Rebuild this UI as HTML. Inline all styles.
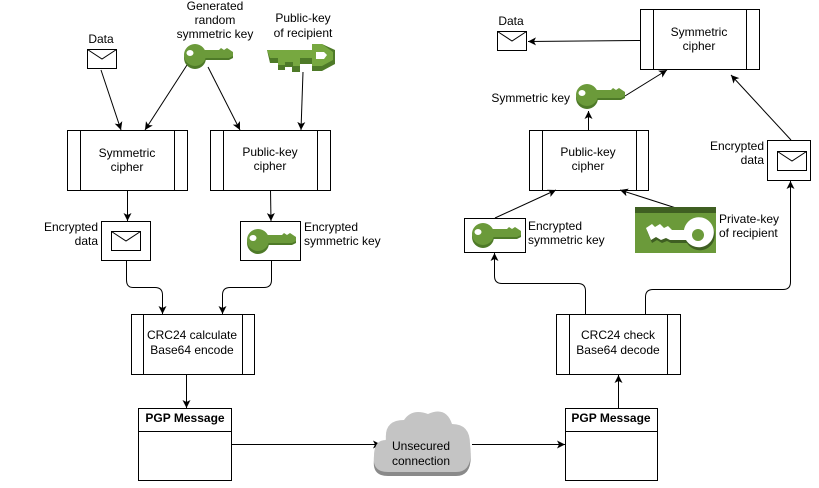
<!DOCTYPE html>
<html><head><meta charset="utf-8"><style>
html,body{margin:0;padding:0;background:#fff;}
svg{display:block;}
text{font-family:"Liberation Sans",sans-serif;font-size:12px;fill:#000;}
</style></head><body>
<svg width="819" height="488" viewBox="0 0 819 488" xmlns="http://www.w3.org/2000/svg">
<defs>
<marker id="a" markerWidth="10" markerHeight="10" refX="8" refY="4" orient="auto" markerUnits="userSpaceOnUse">
<path d="M0,0 L8,4 L0,8 L2,4 Z" fill="#000"/></marker>
<g id="key">
<path d="M12,3 A11,11 0 1 1 12,25 A11,11 0 1 1 12,3 Z" fill="#4e7a28"/>
<path d="M18,8 L36,8 L38,6 L41,8 L44,6 L47,8 L50,10 L50,14 L46,16 L18,16 Z" fill="#4e7a28"/>
<circle cx="12" cy="11" r="11" fill="#6b9a3a"/>
<path d="M18,6 L36,6 L38,4 L41,6 L44,4 L47,6 L50,8 L50,12 L46,14 L18,14 Z" fill="#6b9a3a"/>
<ellipse cx="7" cy="9" rx="3.5" ry="3" fill="#fff"/>
</g>
<g id="env">
<rect x="0.5" y="0.5" width="29" height="19" fill="#fff" stroke="#000"/>
<path d="M0.5,0.5 L15,10 L29.5,0.5" fill="none" stroke="#000"/>
</g>
</defs>
<g fill="none" stroke="#000" stroke-width="1">
<!-- left process boxes -->
<rect x="67.5" y="130.5" width="120" height="60" fill="#fff"/><path d="M80.5,130.5V190.5M174.5,130.5V190.5"/>
<rect x="210.5" y="130.5" width="120" height="60" fill="#fff"/><path d="M223.5,130.5V190.5M317.5,130.5V190.5"/>
<rect x="101.5" y="221.5" width="49" height="39"/>
<rect x="240.5" y="221.5" width="60" height="39"/>
<rect x="131.5" y="314.5" width="123" height="60"/><path d="M143.5,314.5V374.5M242.5,314.5V374.5"/>
<rect x="138.5" y="408.5" width="93" height="72"/><path d="M138.5,431.5H231.5"/>
<!-- right -->
<rect x="565.5" y="408.5" width="92" height="72"/><path d="M565.5,431.5H657.5"/>
<rect x="556.5" y="314.5" width="124" height="60"/><path d="M569.5,314.5V374.5M667.5,314.5V374.5"/>
<rect x="529.5" y="130.5" width="119" height="60"/><path d="M542.5,130.5V190.5M636.5,130.5V190.5"/>
<rect x="640.5" y="9.5" width="119" height="60"/><path d="M653.5,9.5V69.5M746.5,9.5V69.5"/>
<rect x="464.5" y="218.5" width="61" height="34"/>
<rect x="767.5" y="140.5" width="43" height="40"/>
<!-- arrows -->
<path d="M101,70 L121,130" marker-end="url(#a)"/>
<path d="M187,65 L145,130" marker-end="url(#a)"/>
<path d="M208,67 L240,130" marker-end="url(#a)"/>
<path d="M303,72 L301,130" marker-end="url(#a)"/>
<path d="M127.5,190 V221" marker-end="url(#a)"/>
<path d="M270.5,190 L271,221" marker-end="url(#a)"/>
<path d="M126.5,261 V280 Q126.5,287.5 133,287.5 H155 Q162.5,287.5 162.5,295 V314" marker-end="url(#a)"/>
<path d="M271.5,261 V280 Q271.5,287.5 264,287.5 H230 Q222.5,287.5 222.5,295 V314" marker-end="url(#a)"/>
<path d="M186.5,375 V408" marker-end="url(#a)"/>
<path d="M231,444.5 L381,444.5" marker-end="url(#a)"/>
<path d="M472,444.5 L565,444.5" marker-end="url(#a)"/>
<path d="M618.5,408 V375" marker-end="url(#a)"/>
<path d="M585.5,314 V291 Q585.5,283.5 578,283.5 H502 Q494.5,283.5 494.5,276 V253" marker-end="url(#a)"/>
<path d="M645.5,314 V297 Q645.5,289.5 653,289.5 H783 Q790.5,289.5 790.5,282 V181" marker-end="url(#a)"/>
<path d="M495,218 L556,190" marker-end="url(#a)"/>
<path d="M676,208 L620,190" marker-end="url(#a)"/>
<path d="M588.5,130 V111" marker-end="url(#a)"/>
<path d="M625,96 L667,70" marker-end="url(#a)"/>
<path d="M640,40.5 L528,41.5" marker-end="url(#a)"/>
<path d="M791,140 L731,75" marker-end="url(#a)"/>
</g>
<!-- envelopes -->
<use href="#env" x="87" y="49"/>
<use href="#env" x="111" y="231"/>
<use href="#env" x="497" y="31"/>
<use href="#env" x="777" y="151"/>
<!-- keys -->
<use href="#key" x="183" y="44"/>
<use href="#key" x="246" y="229"/>
<use href="#key" x="471" y="223"/>
<use href="#key" x="575" y="84"/>
<!-- public key icon -->
<g>
<path d="M267,50 H312 V44 H322 L335,50 V64 L322,71 H312 V64 H300 V72 H292 V67 H285 V70 H278 V63 L270,63 Z" fill="#4e7a28"/>
<path d="M267,50 H312 V44 H322 L333,52 V60 L322,66 H312 V58 H300 V66 H293 V62 H285 V65 H278 V58 L270,58 Z" fill="#77a840"/>
<path d="M316,52 H324 L327,55 L324,59 H316 Z" fill="#fff"/>
</g>
<!-- private key icon -->
<rect x="635" y="207" width="81" height="46" fill="#6b9a3a"/>
<rect x="635" y="207" width="81" height="6" fill="#3f5f22"/>
<path d="M646,228 L652,224 L655,227 L660,224 L664,228 L668,226 L672,230 L684,230 A15,15 0 1 1 686,240 L670,240 L666,238 L661,240 L656,237 L651,240 Z" fill="#3f5f22" transform="translate(1,3)"/>
<path d="M646,228 L652,224 L655,227 L660,224 L664,228 L668,226 L672,230 L684,230 A15,15 0 1 1 686,240 L670,240 L666,238 L661,240 L656,237 L651,240 Z" fill="#fff"/>
<ellipse cx="698" cy="235" rx="6" ry="6" fill="#6b9a3a"/>
<!-- cloud -->
<g>
<path d="M388,476 Q372,476 374,460 Q374,444 386,444 Q384,424 404,424 Q412,412 428,418 Q446,410 452,428 Q470,428 470,448 Q474,476 456,476 Z" fill="#8a8a8a"/>
<path d="M388,472 Q372,472 374,456 Q374,440 386,440 Q384,420 404,420 Q412,408 428,414 Q446,406 452,424 Q470,424 470,444 Q474,472 456,472 Z" fill="#c4c4c4"/>
</g>
<!-- text -->
<g text-anchor="middle">
<text x="101" y="43">Data</text>
<text x="215" y="10">Generated</text><text x="215" y="24">random</text><text x="215" y="38">symmetric key</text>
<text x="303" y="22">Public-key</text><text x="303" y="37">of recipient</text>
<text x="127" y="157">Symmetric</text><text x="127" y="171">cipher</text>
<text x="270" y="156">Public-key</text><text x="270" y="170">cipher</text>
<text x="192" y="339">CRC24 calculate</text><text x="192" y="354">Base64 encode</text>
<text x="185" y="422" font-weight="bold">PGP Message</text>
<text x="421" y="450">Unsecured</text><text x="421" y="465">connection</text>
<text x="611" y="422" font-weight="bold">PGP Message</text>
<text x="618" y="339">CRC24 check</text><text x="618" y="354">Base64 decode</text>
<text x="588" y="156">Public-key</text><text x="588" y="170">cipher</text>
<text x="699" y="36">Symmetric</text><text x="699" y="50">cipher</text>
<text x="511" y="25">Data</text>
</g>
<g text-anchor="end">
<text x="98" y="231">Encrypted</text><text x="98" y="245">data</text>
<text x="570" y="102">Symmetric key</text>
<text x="764" y="150">Encrypted</text><text x="764" y="164">data</text>
</g>
<text x="304" y="231">Encrypted</text><text x="304" y="245">symmetric key</text>
<text x="528" y="230">Encrypted</text><text x="528" y="244">symmetric key</text>
<text x="719" y="223">Private-key</text><text x="719" y="237">of recipient</text>
</svg>
</body></html>
